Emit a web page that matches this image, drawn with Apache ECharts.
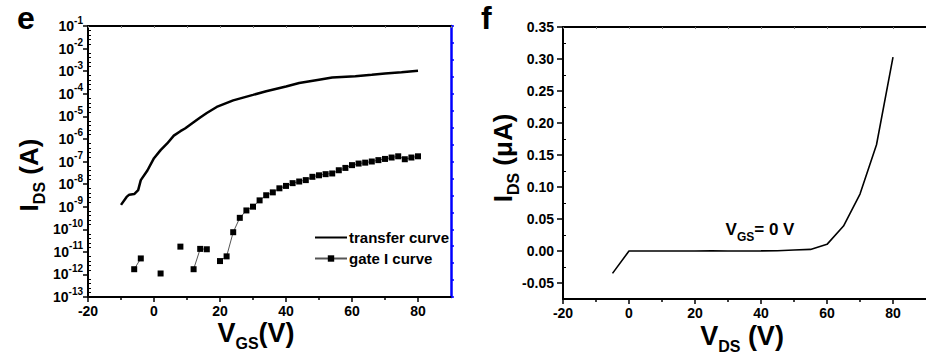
<!DOCTYPE html>
<html>
<head>
<meta charset="utf-8">
<script src="https://cdn.jsdelivr.net/npm/echarts@6/dist/echarts.min.js"></script>
<style>
  html, body { margin: 0; padding: 0; background: #fff; }
  #chart { width: 926px; height: 360px; }
</style>
</head>
<body>
<div id="chart"></div>
<script>
// panel e: transfer curve (V_GS in V, I_DS in A)
const transferV = [-10, -8.3, -7.5, -6, -4.8, -4, -2, 0, 2, 4, 6, 8, 9.4, 12, 14, 16, 19, 24, 30, 34, 40, 44, 50, 54, 61, 66, 70, 75, 80];
const transferI = [1.2e-9, 2.7e-9, 3.4e-9, 3.6e-9, 5.4e-9, 1.5e-8, 4e-8, 1.4e-7, 3.2e-7, 6.3e-7, 1.4e-6, 2.2e-6, 2.9e-6, 5.5e-6, 8.9e-6, 1.4e-5, 2.6e-5, 5.1e-5, 8.9e-5, 1.3e-4, 2.1e-4, 3.0e-4, 4.2e-4, 5.2e-4, 5.9e-4, 6.9e-4, 7.9e-4, 8.9e-4, 1.05e-3];

// panel e: gate current, null = no point (gap)
const gateV = [-6, -4, -2, 0, 2, 4, 6, 8, 10, 12, 14, 16, 18, 20, 22, 24, 26, 28, 30, 32, 34, 36, 38, 40, 42, 44, 46, 48, 50, 52, 54, 56, 58, 60, 62, 64, 66, 68, 70, 72, 74, 76, 78, 80];
const gateI = [1.7e-12, 5.1e-12, null, null, 1.1e-12, null, null, 1.7e-11, null, 1.7e-12, 1.35e-11, 1.3e-11, null, 3.9e-12, 6.3e-12, 7.4e-11, 3.2e-10, 6.8e-10, 1.0e-9, 1.9e-9, 3.2e-9, 4.3e-9, 6.5e-9, 8.3e-9, 1.1e-8, 1.3e-8, 1.5e-8, 2.1e-8, 2.45e-8, 2.75e-8, 2.95e-8, 4.1e-8, 5.2e-8, 6.9e-8, 8.1e-8, 8.9e-8, 1.0e-7, 1.15e-7, 1.3e-7, 1.5e-7, 1.7e-7, 1.26e-7, 1.5e-7, 1.7e-7];

// panel f: output curve (V_DS in V, I_DS in uA)
const outputV = [-5, 0, 5, 10, 15, 20, 25, 30, 35, 40, 45, 50, 55, 60, 65, 70, 75, 80];
const outputI = [-0.035, 0, 0, 0, 0, 0, 0.0002, 0, 0, 0.0002, 0.0005, 0.0015, 0.0025, 0.0104, 0.039, 0.089, 0.166, 0.303];

// tick labels
const vTicks = [-20, 0, 20, 40, 60, 80];
const vMinorTicks = [-10, 10, 30, 50, 70];
const vTopTicks = [-20, -10, 0, 10, 20, 30, 40, 50, 60, 70, 80, 90];
const decadeMin = -13;   // 10^-13
const decadeMax = -1;    // 10^-1
const iTicksF = [-0.05, 0, 0.05, 0.1, 0.15, 0.2, 0.25, 0.3, 0.35];
const iMinorTicksF = [-0.075, -0.025, 0.025, 0.075, 0.125, 0.175, 0.225, 0.275, 0.325];

const FONT = "'Liberation Sans', Arial, sans-serif";
const black = '#000';

const chart = echarts.init(document.getElementById('chart'), null, { renderer: 'svg' });

function bottomAxis(grid) {
  return [
    {
      gridIndex: grid, type: 'value', position: 'bottom', min: -20, max: 90,
      axisLine: { onZero: false, lineStyle: { color: black, width: 2 } },
      axisTick: { customValues: vTicks, length: 5, lineStyle: { color: black, width: 1.5 } },
      axisLabel: { customValues: vTicks, margin: 7, color: black, fontFamily: FONT, fontWeight: 'bold', fontSize: 14 },
      splitLine: { show: false }
    },
    {
      gridIndex: grid, type: 'value', position: 'bottom', min: -20, max: 90,
      axisLine: { show: false, onZero: false },
      axisTick: { customValues: vMinorTicks, length: 3, lineStyle: { color: black, width: 1.5 } },
      axisLabel: { show: false },
      splitLine: { show: false }
    },
    {
      gridIndex: grid, type: 'value', position: 'top', min: -20, max: 90,
      axisLine: { onZero: false, lineStyle: { color: black, width: 2 } },
      axisTick: { customValues: vTopTicks, inside: true, length: 2, lineStyle: { color: '#777', width: 1 } },
      axisLabel: { show: false },
      splitLine: { show: false }
    }
  ];
}

const supLabel = {
  b: { fontFamily: FONT, fontWeight: 'bold', fontSize: 14, color: black, lineHeight: 22, verticalAlign: 'middle' },
  s: { fontFamily: FONT, fontWeight: 'bold', fontSize: 10, color: black, lineHeight: 10, verticalAlign: 'top' }
};

function titleRich(big, sub) {
  return {
    a: { fontFamily: FONT, fontWeight: 'bold', fontSize: big, fill: black, lineHeight: big + 10, verticalAlign: 'middle' },
    s: { fontFamily: FONT, fontWeight: 'bold', fontSize: sub, fill: black, lineHeight: sub, verticalAlign: 'bottom' }
  };
}

chart.setOption({
  animation: false,
  backgroundColor: '#fff',
  grid: [
    { left: 88, right: 475, top: 26, bottom: 63 },
    { left: 563, right: -6, top: 27, bottom: 61 }
  ],
  xAxis: [...bottomAxis(0), ...bottomAxis(1)],
  yAxis: [
    {
      // log scale the panel e data is drawn on
      gridIndex: 0, type: 'log', logBase: 10, min: Math.pow(10, decadeMin), max: Math.pow(10, decadeMax),
      position: 'left',
      axisLine: { show: false, onZero: false },
      axisTick: { show: false },
      axisLabel: { show: false },
      splitLine: { show: false }
    },
    {
      // decade ticks and 10^n labels of the log scale
      gridIndex: 0, type: 'value', min: decadeMin, max: decadeMax, interval: 1, position: 'left',
      axisLine: { onZero: false, lineStyle: { color: black, width: 2 } },
      axisTick: { length: 5, lineStyle: { color: black, width: 1.5 } },
      axisLabel: {
        margin: 5,
        formatter: (v) => '{b|10}{s|' + v + '}',
        rich: supLabel
      },
      splitLine: { show: false }
    },
    {
      // inward minor ticks
      gridIndex: 0, type: 'value', min: decadeMin, max: decadeMax, interval: 1, position: 'left',
      axisLine: { show: false, onZero: false },
      axisTick: { show: false, inside: true },
      minorTick: { show: true, splitNumber: 5, length: 3, lineStyle: { color: black, width: 1 } },
      axisLabel: { show: false },
      splitLine: { show: false }
    },
    {
      gridIndex: 0, type: 'value', min: 0, max: 16, interval: 1, position: 'right',
      axisLine: { onZero: false, lineStyle: { color: '#0000ff', width: 2.5 } },
      axisTick: { length: 3, lineStyle: { color: '#0000ff', width: 1.5 } },
      axisLabel: { show: false },
      splitLine: { show: false }
    },
    {
      gridIndex: 1, type: 'value', min: -0.075, max: 0.35, position: 'left',
      axisLine: { onZero: false, lineStyle: { color: black, width: 2 } },
      axisTick: { customValues: iTicksF, length: 6, lineStyle: { color: black, width: 1.5 } },
      axisLabel: {
        customValues: iTicksF, margin: 9, color: black, fontFamily: FONT, fontWeight: 'bold', fontSize: 14,
        formatter: (v) => v.toFixed(2)
      },
      splitLine: { show: false }
    },
    {
      gridIndex: 1, type: 'value', min: -0.075, max: 0.35, position: 'left',
      axisLine: { show: false, onZero: false },
      axisTick: { customValues: iMinorTicksF, inside: true, length: 3, lineStyle: { color: black, width: 1 } },
      axisLabel: { show: false },
      splitLine: { show: false }
    }
  ],
  legend: {
    data: [
      { name: 'transfer curve', itemStyle: { opacity: 0 } },
      { name: 'gate I curve' }
    ],
    orient: 'vertical',
    left: 309,
    top: 225,
    itemWidth: 32,
    itemHeight: 8,
    itemGap: 6,
    textStyle: { fontFamily: FONT, fontWeight: 'bold', fontSize: 15, color: black, padding: [0, 0, 0, -3] }
  },
  series: [
    {
      name: 'transfer curve', type: 'line', xAxisIndex: 0, yAxisIndex: 0,
      symbol: 'none', lineStyle: { color: black, width: 2.5 }, itemStyle: { color: black },
      data: transferV.map((v, i) => [v, transferI[i]])
    },
    {
      name: 'gate I curve', type: 'line', xAxisIndex: 0, yAxisIndex: 0,
      symbol: 'rect', symbolSize: 6, connectNulls: false,
      lineStyle: { color: '#555', width: 1 }, itemStyle: { color: black },
      data: gateV.map((v, i) => [v, gateI[i] === null ? '-' : gateI[i]])
    },
    {
      name: 'output', type: 'line', xAxisIndex: 3, yAxisIndex: 4,
      symbol: 'none', lineStyle: { color: black, width: 1.6 },
      data: outputV.map((v, i) => [v, outputI[i]])
    }
  ],
  graphic: [
    { type: 'text', x: 17, y: 2, style: { text: 'e', fontFamily: FONT, fontWeight: 'bold', fontSize: 32, fill: black } },
    { type: 'text', x: 481, y: 2, style: { text: 'f', fontFamily: FONT, fontWeight: 'bold', fontSize: 32, fill: black } },
    {
      type: 'text', x: 29, y: 175, rotation: Math.PI / 2,
      style: { text: '{a|I}{s|DS}{a| (A)}', rich: titleRich(26, 16), align: 'center', verticalAlign: 'middle' }
    },
    {
      type: 'text', x: 503, y: 158, rotation: Math.PI / 2,
      style: { text: '{a|I}{s|DS}{a| (\u03bcA)}', rich: titleRich(26, 16), align: 'center', verticalAlign: 'middle' }
    },
    {
      type: 'text', x: 256, y: 333,
      style: { text: '{a|V}{s|GS}{a|(V)}', rich: titleRich(27, 16), align: 'center', verticalAlign: 'middle' }
    },
    {
      type: 'text', x: 742, y: 336,
      style: { text: '{a|V}{s|DS}{a| (V)}', rich: titleRich(27, 16), align: 'center', verticalAlign: 'middle' }
    },
    {
      type: 'text', x: 760, y: 229,
      style: { text: '{a|V}{s|GS}{a|= 0 V}', rich: titleRich(17, 12), align: 'center', verticalAlign: 'middle' }
    }
  ]
});
</script>
</body>
</html>
